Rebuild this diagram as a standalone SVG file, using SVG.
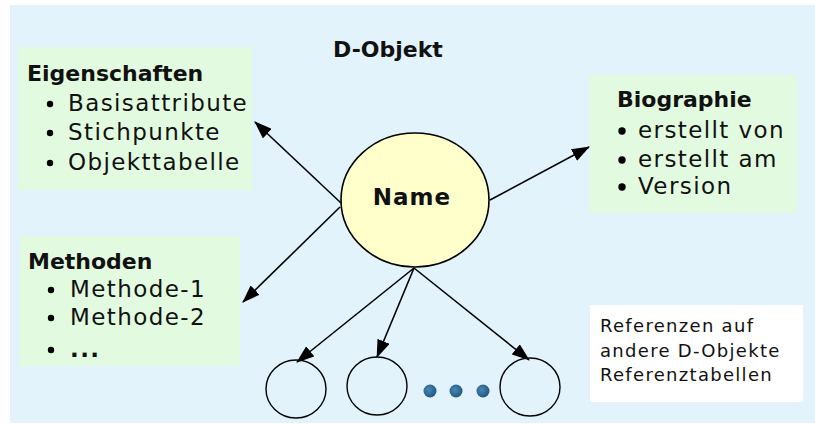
<svg xmlns="http://www.w3.org/2000/svg" width="815" height="425" viewBox="0 0 815 425">
<defs>
<marker id="ah" viewBox="0 0 18 13" refX="17" refY="6.5" markerWidth="18" markerHeight="13" markerUnits="userSpaceOnUse" orient="auto">
<path d="M0,0 L18,6.5 L0,13 z" fill="#000"/>
</marker>
<radialGradient id="dotg" cx="0.4" cy="0.4" r="0.6">
<stop offset="0" stop-color="#4d86b0"/>
<stop offset="1" stop-color="#1f5a86"/>
</radialGradient>
<style>
.t{font-family:"DejaVu Sans",Verdana,sans-serif;fill:#111;}
.b{font-weight:bold;font-size:22px;}
.r{font-size:23px;letter-spacing:1.4px;}
.s{font-size:18px;letter-spacing:1.3px;}
.box{fill:#e2fbe0;}
.conn line{stroke:#000;stroke-width:1.6;marker-end:url(#ah);}
.sc{fill:none;stroke:#000;stroke-width:1.4;}
</style>
</defs>
<rect x="0" y="0" width="815" height="425" fill="#fff"/>
<rect x="10" y="5" width="805" height="418" fill="#e2f3fc"/>
<text class="t b" x="333" y="57">D-Objekt</text>

<g id="eigenschaften">
<rect class="box" x="18" y="47" width="234" height="143"/>
<text class="t b" x="27" y="81">Eigenschaften</text>
<circle cx="50" cy="104" r="3.2"/><text class="t r" x="68" y="111">Basisattribute</text>
<circle cx="50" cy="133" r="3.2"/><text class="t r" x="68" y="140">Stichpunkte</text>
<circle cx="50" cy="163" r="3.2"/><text class="t r" x="68" y="170">Objekttabelle</text>
</g>

<g id="methoden">
<rect class="box" x="20" y="236" width="220" height="130"/>
<text class="t b" x="28" y="269">Methoden</text>
<circle cx="51" cy="290" r="3.2"/><text class="t r" x="70" y="297">Methode-1</text>
<circle cx="51" cy="318" r="3.2"/><text class="t r" x="70" y="325">Methode-2</text>
<circle cx="51" cy="350" r="3.2"/><text class="t r" x="70" y="357" font-weight="bold">...</text>
</g>

<g id="biographie">
<rect class="box" x="589" y="75" width="208" height="138"/>
<text class="t b" x="617" y="107">Biographie</text>
<circle cx="622" cy="131" r="3.7"/><text class="t r" x="638" y="138">erstellt von</text>
<circle cx="622" cy="160" r="3.7"/><text class="t r" x="638" y="167">erstellt am</text>
<circle cx="622" cy="187" r="3.7"/><text class="t r" x="638" y="194">Version</text>
</g>

<g id="referenzen">
<rect x="590" y="305" width="213" height="97" fill="#fff"/>
<text class="t s" x="600" y="332">Referenzen auf</text>
<text class="t s" x="600" y="357">andere D-Objekte</text>
<text class="t s" x="600" y="381">Referenztabellen</text>
</g>

<g id="name">
<ellipse cx="415" cy="200" rx="74" ry="67" fill="#ffffcc" stroke="#000" stroke-width="1.6"/>
<text class="t" x="412" y="205" font-size="23" font-weight="bold" text-anchor="middle" letter-spacing="1">Name</text>
</g>

<g id="ref1"><ellipse class="sc" cx="296" cy="389" rx="30" ry="29"/></g>
<g id="ref2"><ellipse class="sc" cx="377" cy="386" rx="30" ry="29"/></g>
<g id="ref3"><ellipse class="sc" cx="530" cy="387" rx="30" ry="29"/></g>
<g id="dots">
<circle cx="430" cy="391" r="6.5" fill="url(#dotg)"/>
<circle cx="456" cy="391" r="6.5" fill="url(#dotg)"/>
<circle cx="483" cy="391" r="6.5" fill="url(#dotg)"/>
</g>

<g class="conn" id="connectors">
<line x1="341" y1="203" x2="255" y2="122"/>
<line x1="340" y1="207" x2="243" y2="302"/>
<line x1="490" y1="200" x2="589" y2="147"/>
<line x1="414" y1="268" x2="297" y2="362"/>
<line x1="414" y1="268" x2="377" y2="357"/>
<line x1="414" y1="268" x2="529" y2="360"/>
</g>
</svg>
